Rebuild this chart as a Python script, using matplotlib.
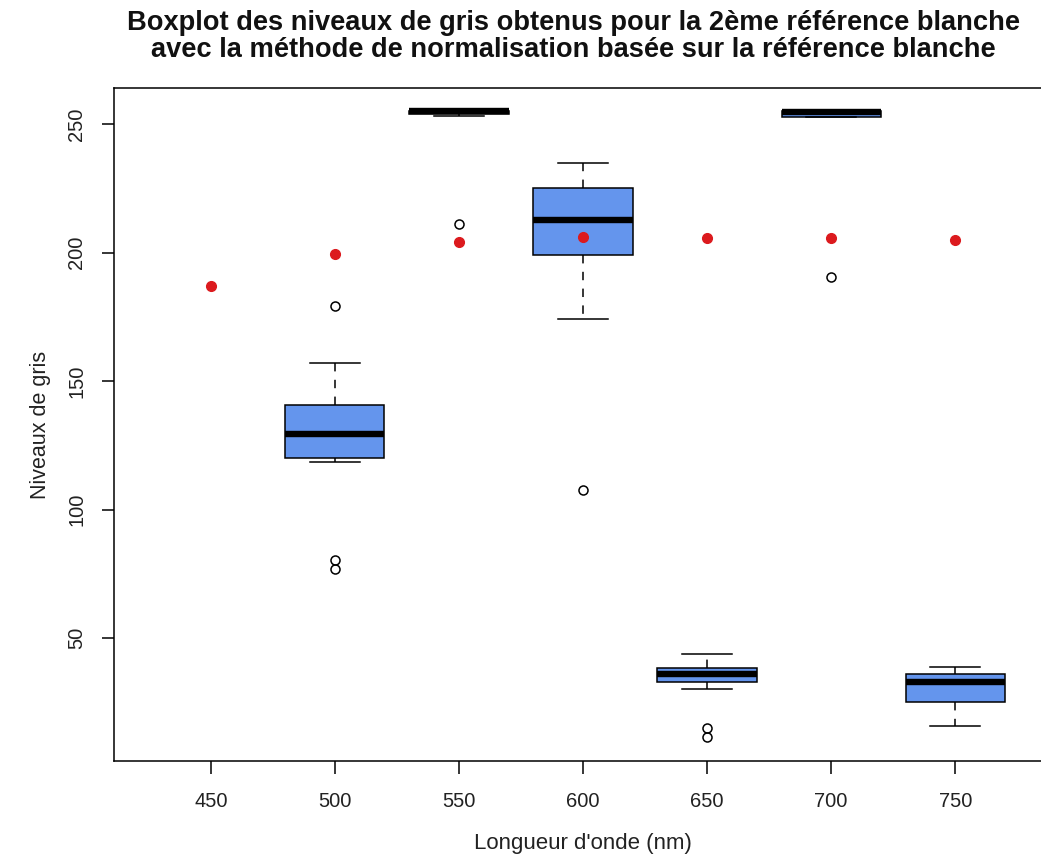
import numpy as np
import matplotlib
matplotlib.use("Agg")
import matplotlib.pyplot as plt

plt.rcParams['font.family'] = ['Liberation Sans', 'DejaVu Sans']

# longueurs d'onde (nm)
wavelengths = [450, 500, 550, 600, 650, 700, 750]

# statistiques des boites (pas de boite pour 450)
box_wl = [500, 550, 600, 650, 700, 750]
whislo = [118.5, 253.0, 174.1, 30.1, 252.7, 15.8]
q1 = [120.0, 254.0, 199.0, 32.9, 252.7, 25.0]
med = [129.4, 255.0, 212.6, 36.0, 254.8, 33.0]
q3 = [140.7, 255.0, 225.1, 38.3, 255.0, 36.0]
whishi = [157.0, 255.0, 234.8, 43.8, 255.0, 38.7]
fliers = [[179.2, 80.3, 76.8], [211.1], [107.6], [15.1, 11.6], [190.5], []]

# valeurs de reference (points rouges)
ref_vals = [187.0, 199.4, 204.1, 206.0, 205.6, 205.6, 204.9]

fig = plt.figure(figsize=(10.41, 8.68), dpi=100)
ax = fig.add_axes([114/1041, 1-761/868, (1052-114)/1041, (761-88)/868])

pos = {w: i+1 for i, w in enumerate(wavelengths)}
stats = []
for i in range(len(box_wl)):
    stats.append(dict(whislo=whislo[i], q1=q1[i], med=med[i], q3=q3[i],
                      whishi=whishi[i], fliers=fliers[i]))

ax.bxp(stats, positions=[pos[w] for w in box_wl], widths=0.8,
       patch_artist=True, showfliers=True,
       boxprops=dict(facecolor='#6495ED', edgecolor='black', linewidth=1.1),
       medianprops=dict(color='black', linewidth=4.6, solid_capstyle='butt'),
       whiskerprops=dict(color='black', linewidth=1.1, linestyle=(0, (5.5, 5.5))),
       capprops=dict(color='black', linewidth=1.1),
       capwidths=0.4,
       flierprops=dict(marker='o', markerfacecolor='none', markeredgecolor='black',
                       markersize=6.5, markeredgewidth=1.1))

ax.plot([pos[w] for w in wavelengths], ref_vals, 'o', color='#dc1a1e',
        markersize=7, linestyle='none', zorder=5)

ax.set_xlim(0.22, 7.78)
ax.set_ylim(2.2, 264)
ax.set_xticks(range(1, 8))
ax.set_xticklabels([str(w) for w in wavelengths])
ax.set_yticks([50, 100, 150, 200, 250])
ax.tick_params(axis='both', direction='out', length=9, width=1.1,
               labelsize=14.5, colors='black', labelcolor='#222222')
ax.tick_params(axis='x', pad=13)
ax.tick_params(axis='y', pad=11)
for lab in ax.get_yticklabels():
    lab.set_rotation(90)
    lab.set_va('center')
for s in ax.spines.values():
    s.set_linewidth(1.1)

ax.set_xlabel("Longueur d'onde (nm)", fontsize=16, color='#222222', labelpad=16)
ax.set_ylabel("Niveaux de gris", fontsize=15.5, color='#222222', labelpad=12)
fig.text(0.551, 0.989,
         "Boxplot des niveaux de gris obtenus pour la 2ème référence blanche\n"
         "avec la méthode de normalisation basée sur la référence blanche",
         fontsize=19.6, fontweight='bold', ha='center', va='top',
         linespacing=1.07, color='#111111')

fig.savefig("out.png", dpi=100)
